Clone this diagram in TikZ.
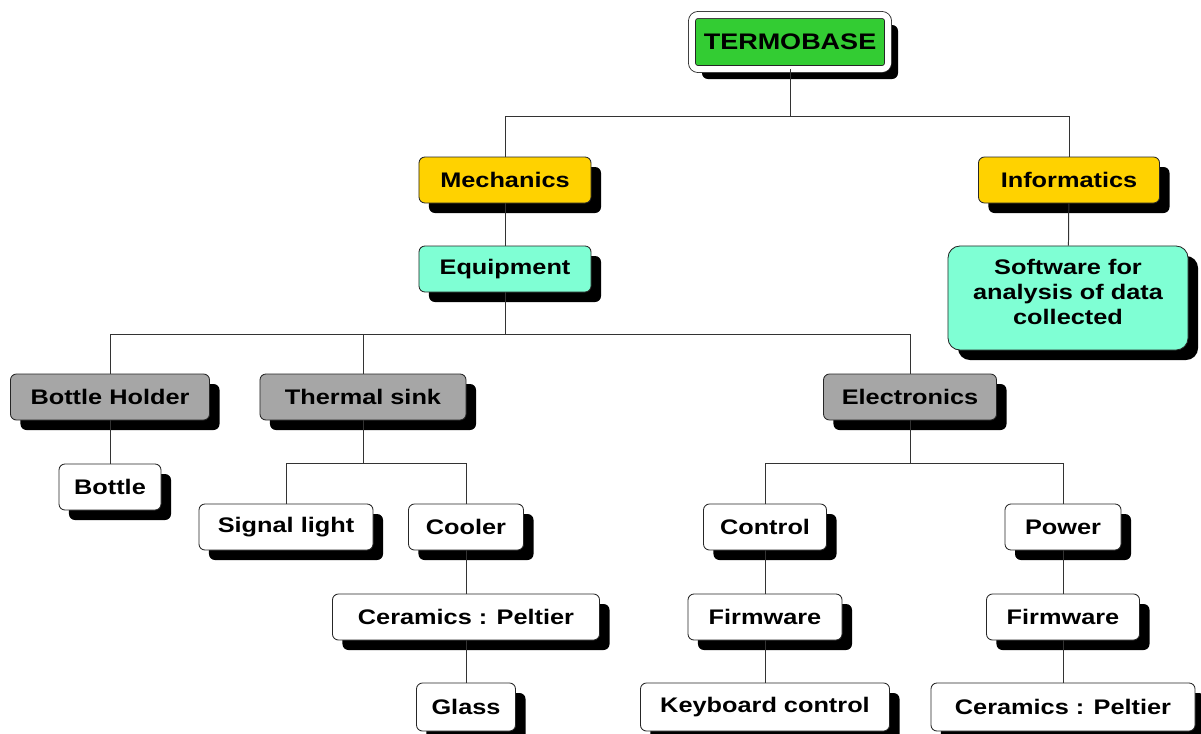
\documentclass[tikz,border=0pt]{standalone}
\usepackage{fontspec}
\setmainfont{Liberation Sans}[FakeStretch=1.2]
\usetikzlibrary{shadows}

\definecolor{termogreen}{RGB}{51,204,51}
\definecolor{mechyellow}{RGB}{255,210,0}
\definecolor{aquabox}{RGB}{127,255,212}
\definecolor{partgray}{RGB}{166,166,166}

\begin{document}
\begin{tikzpicture}[x=0.025cm, y=-0.025cm,
    every node/.style={font=\fontsize{15}{17.7}\selectfont\bfseries, align=center},
    box/.style={draw=black!85, line width=0.6pt, rounded corners=0.15cm, fill=white,
        minimum height=1.15cm, inner sep=0pt,
        drop shadow={shadow xshift=0.25cm, shadow yshift=-0.25cm, fill=black, opacity=1}},
    graybox/.style={box, fill=partgray},
    yellowbox/.style={box, fill=mechyellow},
    aquabox/.style={box, fill=aquabox},
    link/.style={draw=black!80, line width=0.7pt}
]
    \useasboundingbox (0,0) rectangle (1201,733);

    % top
    \node[box, fill=termogreen, double=white, double distance=0.15cm,
          minimum width=4.9cm, minimum height=1.35cm,
          font=\fontsize{16}{19}\selectfont\bfseries] (termo) at (790,42) {TERMOBASE};

    % first level
    \node[yellowbox, minimum width=4.3cm] (mech) at (505,180) {Mechanics};
    \node[yellowbox, minimum width=4.525cm] (info) at (1069,180) {Informatics};
    \node[aquabox, minimum width=4.3cm] (equip) at (505,269) {Equipment};
    \node[aquabox, minimum width=6cm, minimum height=2.6cm, rounded corners=0.3cm]
        (soft) at (1068,298) {};
    \node (softtxt) at (1068,292) {Software for\\analysis of data\\collected};

    % parts
    \node[graybox, minimum width=4.975cm] (bholder) at (110,397) {Bottle Holder};
    \node[graybox, minimum width=5.15cm] (tsink) at (363,397) {Thermal sink};
    \node[graybox, minimum width=4.325cm] (elec) at (910,397) {Electronics};

    \node[box, minimum width=2.55cm] (bottle) at (110,487) {Bottle};
    \node[box, minimum width=4.35cm] (signal) at (286,527) {Signal light};
    \node[box, minimum width=2.875cm] (cooler) at (466,527) {Cooler};
    \node[box, minimum width=3.075cm] (control) at (765,527) {Control};
    \node[box, minimum width=2.9cm] (power) at (1063,527) {Power};

    \node[box, minimum width=6.675cm] (ceramA) at (466,617) {Ceramics : Peltier};
    \node[box, minimum width=3.85cm] (firmA) at (765,617) {Firmware};
    \node[box, minimum width=3.825cm] (firmB) at (1063,617) {Firmware};

    \node[box, minimum width=2.475cm, minimum height=1.2cm] (glass) at (466,707) {Glass};
    \node[box, minimum width=6.225cm, minimum height=1.2cm] (keyb) at (765,707) {Keyboard control};
    \node[box, minimum width=6.6cm, minimum height=1.2cm] (ceramB) at (1063,707) {Ceramics : Peltier};

    % junctions
    \coordinate (j0) at (790,116);
    \coordinate (j1) at (505,334);
    \coordinate (j2) at (363,463);
    \coordinate (j3) at (910,463);

    \draw[link] (termo.south) -- (j0) -| (mech.north);
    \draw[link] (j0) -| (info.north);
    \draw[link] (mech) -- (equip);
    \draw[link] (info) -- (soft);

    \draw[link] (equip.south) -- (j1) -| (bholder.north);
    \draw[link] (j1) -| (tsink.north);
    \draw[link] (j1) -| (elec.north);
    \draw[link] (bholder) -- (bottle);

    \draw[link] (tsink.south) -- (j2) -| (signal.north);
    \draw[link] (j2) -| (cooler.north);
    \draw[link] (cooler) -- (ceramA);
    \draw[link] (ceramA) -- (glass);

    \draw[link] (elec.south) -- (j3) -| (control.north);
    \draw[link] (j3) -| (power.north);
    \draw[link] (control) -- (firmA);
    \draw[link] (firmA) -- (keyb);
    \draw[link] (power) -- (firmB);
    \draw[link] (firmB) -- (ceramB);
\end{tikzpicture}
\end{document}
